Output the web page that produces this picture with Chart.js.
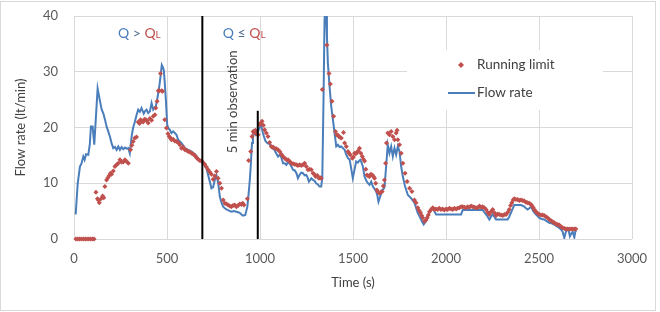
<!DOCTYPE html>
<html><head><meta charset="utf-8">
<script src="https://cdn.jsdelivr.net/npm/chart.js@4.4.0/dist/chart.umd.min.js"></script>
<style>html,body{margin:0;padding:0;background:#fff}#wrap{position:relative;width:660px;height:312px}</style>
</head><body><div id="wrap"><canvas id="c" width="660" height="312"></canvas></div>
<script>
const xTicks = [0, 500, 1000, 1500, 2000, 2500, 3000];
const yTicks = [0, 10, 20, 30, 40];
const seriesNames = ["Running limit", "Flow rate"];

const flowTime = [
9,20,32,40,50,57,65,77,85,91,
100,109,118,127,138,149,158,166,175,184,
193,202,211,220,229,238,247,256,265,274,
283,292,300,310,318,327,336,345,354,363,
375,383,390,399,408,417,426,434,440,447,
453,459,465,472,478,483,488,494,501,508,
515,524,533,542,551,560,578,596,614,632,
650,667,685,694,703,712,721,730,739,748,
757,766,775,784,793,802,811,820,833,846,
860,873,882,891,900,909,921,932,939,945,
950,957,962,968,976,983,990,997,1004,1010,
1016,1022,1029,1040,1052,1064,1077,1087,1097,1106,
1115,1124,1133,1142,1151,1160,1169,1178,1187,1196,
1204,1213,1222,1231,1240,1249,1256,1263,1270,1276,
1285,1294,1302,1311,1320,1329,1335,1342,1347,1351,
1356,1360,1365,1374,1383,1392,1401,1410,1419,1428,
1437,1446,1455,1464,1473,1482,1490,1499,1508,1517,
1526,1535,1539,1545,1553,1562,1571,1580,1589,1598,
1607,1616,1625,1631,1637,1646,1657,1665,1670,1678,
1687,1696,1705,1714,1723,1732,1741,1750,1759,1768,
1780,1795,1813,1830,1839,1848,1857,1866,1873,1880,
1893,1905,1920,1928,1937,1947,1960,1980,2000,2020,
2040,2060,2081,2090,2110,2130,2150,2170,2197,2206,
2215,2224,2233,2242,2251,2260,2269,2285,2300,2315,
2331,2340,2349,2358,2367,2385,2403,2421,2430,2439,
2448,2457,2469,2484,2493,2501,2515,2528,2541,2555,
2568,2582,2595,2609,2618,2627,2636,2642,2648,2659,
2666,2674,2681,2690,2695,2700];
const flowRate = [
4.4,10,13,13.5,14.8,14.2,15.2,15.1,17,20.2,
20.2,16.9,22,27,25,23.2,22.5,21.5,20.2,19.3,
18.4,17.2,16.3,16.5,16,16.6,16,16.5,16.1,16.4,
16.2,16.3,15.4,18.4,20,21,22.2,23.2,22.8,23.5,
22.5,23,23.2,22.6,22.9,24.4,23.2,23.6,23.8,25,
26.2,27.5,29.1,31.2,30.8,30.3,28,25,20.5,19.8,
19.6,19,19.3,19,18.7,17.8,17.2,16.3,16,15.7,
15.2,14.5,14,13.6,13.2,12.7,11.5,10.3,9.1,9.3,
10.6,11.4,10.1,7.6,6.5,5.8,5.5,5.3,5.1,4.9,
5,4.9,4.8,4.7,4.4,4.2,4.3,5.8,8.2,10.5,
13,17.2,18.5,19.3,18.7,19,19.3,20,20.5,19.8,
19,18.3,17.6,17.2,17,16.3,16,15.4,14.8,15.1,
14.6,13.6,13.6,13.3,13.8,13.5,13,12.4,12.3,11.8,
10.9,11.5,11.9,11.8,11.4,11.5,11,10.3,10.6,10.9,
10.6,10.4,10,9.8,9.4,9.4,11,26.2,39.3,41,
40,36.3,31.5,27.3,23.8,21.4,19,16.6,16.9,16.5,
16.6,16.3,16,15.1,14.5,14.2,12.7,10.9,12.4,13.9,
13.7,14.1,14.2,13.8,13,11.2,10.5,10,9.7,10.3,
9.4,9,8.5,7.8,6.7,7.6,8.8,9,9.4,13,
16.9,15.4,16.6,14.8,16.3,15.1,16.6,15.7,13,11.2,
9.4,7.9,7.3,6.5,5.6,4.7,4.1,3.5,3,2.6,
3.2,4.4,5.3,5.6,5,4.4,4.4,4.4,4.4,4.4,
4.4,4.4,4.4,5.2,5.2,5.2,5.2,5.2,5.2,4.8,
4.4,4,3.5,4,4.4,4,3.5,3.5,3.5,3.5,
3.5,4,4.7,5.4,6.1,6.1,6.1,5.8,5.5,5.3,
5.5,5.8,5,4.4,4.1,3.8,3.6,3.5,3.2,2.9,
2.8,2.6,2.3,2,1.7,1.3,0.2,1,1.6,1.6,
0.5,1,1.3,0.3,1.3,1.5];

const limitTime = [
10,20,30,40,50,60,70,80,90,100,
108,118,126,131,136,145,154,160,166,175,
182,190,196,202,211,220,229,238,247,256,
265,274,283,292,304,311,318,327,336,345,
352,358,365,372,379,386,392,399,408,417,
426,435,440,447,453,459,465,471,477,488,
497,505,512,518,524,533,542,551,560,569,
578,587,596,605,614,623,632,641,650,658,
667,676,685,694,703,712,721,730,739,748,
757,766,775,784,793,802,811,820,829,838,
846,855,864,873,882,891,900,907,914,932,
939,950,957,963,968,975,980,985,990,998,
1004,1011,1018,1025,1034,1043,1052,1061,1070,1079,
1088,1097,1106,1115,1124,1133,1142,1151,1160,1169,
1178,1187,1196,1204,1213,1222,1231,1240,1249,1258,
1267,1276,1285,1292,1299,1308,1317,1324,1329,1335,
1360,1371,1378,1387,1396,1406,1413,1419,1424,1431,
1437,1449,1455,1464,1473,1479,1485,1496,1502,1508,
1515,1521,1528,1535,1542,1550,1556,1562,1569,1575,
1582,1589,1596,1604,1610,1616,1622,1628,1636,1643,
1650,1657,1663,1669,1675,1680,1687,1696,1705,1714,
1723,1732,1737,1741,1750,1759,1768,1780,1791,1804,
1817,1830,1839,1848,1856,1863,1869,1875,1884,1892,
1899,1905,1911,1920,1929,1937,1946,1955,1964,1973,
1982,1991,2000,2009,2018,2027,2036,2045,2054,2063,
2072,2081,2090,2099,2108,2117,2126,2135,2144,2153,
2162,2171,2180,2189,2197,2206,2215,2224,2233,2242,
2251,2260,2269,2278,2287,2296,2305,2314,2323,2332,
2340,2347,2354,2361,2367,2376,2385,2394,2403,2412,
2421,2430,2439,2448,2457,2463,2469,2476,2484,2492,
2501,2510,2519,2528,2537,2546,2555,2564,2573,2582,
2591,2600,2609,2618,2627,2636,2645,2654,2663,2672,
2681,2690,2698];
const limitValue = [
0,0,0,0,0,0,0,0,0,0,
0,8.4,7.2,7,6.5,7.2,7.7,7.4,9.4,10.6,
11,11.4,11.8,11.6,12.2,13,13.3,13.6,14.2,13.8,
13.8,14.2,13.9,13.6,16,16.8,17.5,18.1,18.3,21,
20.7,21.4,21.1,21,21.5,21.4,21.2,20.8,21.6,21.3,
22,22.3,23.5,24.7,26.6,26.6,29.7,26.6,26.5,21.4,
19.9,18.9,18.4,18.1,17.8,17.9,17.6,17.5,17.3,16.9,
16.3,16.5,16,15.9,15.7,15.6,15.4,15.2,15,14.6,
14.3,14.1,14,13.7,13.4,12.9,12.4,12,11.6,10.7,
11.3,12.1,10.9,10,9.1,7,6.4,6.3,6.1,5.9,
5.8,6,6.1,5.8,6,6.3,6.2,6.4,6.1,7.2,
14.1,15.7,18.4,19.3,19,19.5,19.3,18.8,18.7,20.5,
20.8,21.1,20.4,19.6,19,18.4,17.3,16.6,16.5,16.3,
16.2,16,15.7,15.2,14.8,14.5,14.2,14.2,13.9,13.6,
13.5,13.4,13.3,13.2,13.3,13.2,13.3,13.6,13,12.4,
12.5,12.4,11.8,11.6,11.2,11.4,10.9,11,10.9,26.8,
34.8,29.7,27.8,24.7,22,19.3,18.7,18.6,18.4,18.2,
18.1,19.1,17.2,16.6,15.7,15.4,15.1,14.5,14.7,15.4,
15.3,15.5,15.8,16.3,15.4,14.8,14.3,14,12.5,11.5,
11.3,11.2,11.6,11.5,11.2,10.9,10,8.8,8.4,8.2,
8.4,8.5,9.5,10.6,13.6,17.2,19,18.7,19.3,18.4,
17.8,19,19.5,17.8,16.9,15.4,13.6,11.8,10.3,9.1,
8.5,7,6.5,5.6,5.1,4.7,4.2,3.8,3.2,3.4,
3.8,4.3,4.9,5.3,5.6,5.3,5.4,5.3,5.5,5.3,
5.4,5.2,5.4,5.3,5.5,5.4,5.3,5.5,5.4,5.5,
5.6,5.8,5.8,5.7,5.6,5.8,5.7,5.9,5.8,5.7,
5.6,5.6,5.9,5.7,5.8,5.6,5.3,4.8,4.4,4.9,
5.3,4.7,4.2,4.5,4.4,4.3,4.2,4.4,4.4,4.8,
5.3,6,6.5,7,7.2,7.1,7.1,6.9,7,6.9,
6.8,6.6,6.5,6.4,6.2,5.9,5.6,5.2,4.9,4.6,
4.4,4.3,4.3,4.2,4,3.8,3.5,3.3,3.1,2.9,
2.7,2.6,2.5,2.2,2,1.9,1.8,1.8,1.8,1.8,
1.8,1.8,1.8];

// vertical marker lines (time, top value)
const markerTimes = [690, 988];
const markerTops = [40, 23];

const BLUE = '#4a7ebb', RED = '#c0504d', TXT = '#404040', GRID = '#d9d9d9';
const FONT = 'Lato, "Open Sans", sans-serif';

const toXY = (xs, ys) => xs.map((x, i) => ({x, y: ys[i]}));

const markerSets = markerTimes.map((t, i) => ({
  label: 'marker' + i,
  data: [{x: t, y: 0}, {x: t, y: markerTops[i]}],
  showLine: true, borderColor: '#000', borderWidth: 2, pointRadius: 0, order: 0, clip: false
}));

const decor = {
  id: 'decor',
  beforeDraw(chart) {
    const ctx = chart.ctx;
    ctx.save();
    ctx.fillStyle = '#fff';
    ctx.fillRect(0, 0, chart.width, chart.height);
    ctx.strokeStyle = GRID;
    ctx.lineWidth = 1;
    ctx.strokeRect(0.5, 1.5, 655, 309);
    ctx.restore();
  },
  beforeDatasetsDraw(chart) {
    const ctx = chart.ctx;
    ctx.save();
    ctx.fillStyle = '#fff';
    ctx.fillRect(407, 50, 196, 60);
    ctx.font = '13.5px ' + FONT;
    ctx.textBaseline = 'middle';
    ctx.textAlign = 'left';
    ctx.fillStyle = RED;
    ctx.beginPath();
    ctx.moveTo(461, 62); ctx.lineTo(464, 65); ctx.lineTo(461, 68); ctx.lineTo(458, 65); ctx.closePath();
    ctx.fill();
    ctx.fillStyle = TXT;
    ctx.fillText(seriesNames[0], 477, 65);
    ctx.strokeStyle = BLUE; ctx.lineWidth = 2;
    ctx.beginPath(); ctx.moveTo(448, 93); ctx.lineTo(475, 93); ctx.stroke();
    ctx.fillText(seriesNames[1], 477, 93);
    ctx.restore();
  },
  afterDatasetsDraw(chart) {
    const ctx = chart.ctx, xs = chart.scales.x, ys = chart.scales.y;
    ctx.save();
    ctx.textBaseline = 'alphabetic';
    ctx.textAlign = 'left';
    const drawQ = (t, v, sym) => {
      let x = xs.getPixelForValue(t), y = ys.getPixelForValue(v) + 5;
      const parts = [['Q', BLUE, 14], [' ' + sym + ' ', '#4f6a8f', 14], ['Q', RED, 14], ['L', RED, 10]];
      for (const [s, c, f] of parts) {
        ctx.font = f + 'px ' + FONT;
        ctx.fillStyle = c;
        ctx.fillText(s, x, y);
        x += ctx.measureText(s).width;
      }
    };
    drawQ(236, 37, '>');
    drawQ(800, 37, '\u2264');
    const rx = xs.getPixelForValue(853), ry = ys.getPixelForValue(24.6);
    ctx.translate(rx, ry);
    ctx.rotate(-Math.PI / 2);
    ctx.textAlign = 'center';
    ctx.textBaseline = 'middle';
    ctx.font = '13px ' + FONT;
    ctx.fillStyle = TXT;
    ctx.fillText('5 min observation', 0, 0);
    ctx.restore();
  }
};

new Chart(document.getElementById('c'), {
  type: 'scatter',
  data: {
    datasets: [
      ...markerSets,
      { label: seriesNames[0], data: toXY(limitTime, limitValue), showLine: false,
        pointStyle: 'rectRot', pointRadius: 2.5, pointBackgroundColor: RED, pointBorderColor: RED,
        pointBorderWidth: 0, order: 1, clip: false },
      { label: seriesNames[1], data: toXY(flowTime, flowRate), showLine: true,
        borderColor: BLUE, borderWidth: 2, pointRadius: 0, order: 2, tension: 0 }
    ]
  },
  options: {
    responsive: false, animation: false, events: [],
    layout: { padding: { left: 0, right: 28, top: 16, bottom: 0 } },
    plugins: { legend: { display: false }, tooltip: { enabled: false } },
    scales: {
      x: {
        type: 'linear', min: 0, max: 3000,
        afterBuildTicks: s => { s.ticks = xTicks.map(v => ({value: v})); },
        afterFit: s => { s.height = 73; s.paddingLeft = 0; s.paddingRight = 0; },
        grid: { color: GRID, drawTicks: false },
        border: { display: false },
        ticks: { padding: 12, color: '#595959', font: { family: FONT, size: 13 }, callback: v => String(v) },
        title: { display: true, text: 'Time (s)', color: TXT, font: { family: FONT, size: 13 }, padding: { top: 0, bottom: 21 } }
      },
      y: {
        min: 0, max: 40,
        afterBuildTicks: s => { s.ticks = yTicks.map(v => ({value: v})); },
        afterFit: s => { s.width = 74; s.paddingTop = 0; s.paddingBottom = 0; },
        grid: { color: GRID, drawTicks: false },
        border: { display: false },
        ticks: { padding: 16, color: '#595959', font: { family: FONT, size: 13 }, callback: v => String(v) },
        title: { display: true, text: 'Flow rate (lt/min)', color: TXT, font: { family: FONT, size: 13 }, padding: { top: 13, bottom: 0 } }
      }
    }
  },
  plugins: [decor]
});
</script>
</body></html>
